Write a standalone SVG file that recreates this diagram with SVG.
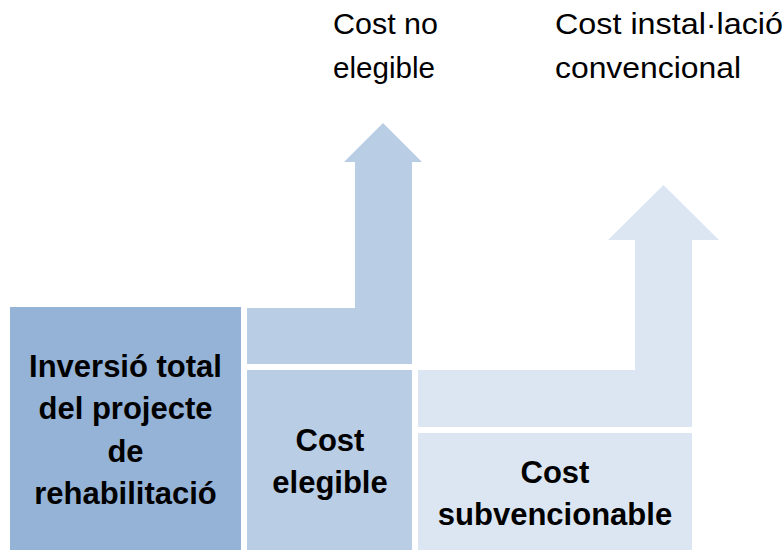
<svg xmlns="http://www.w3.org/2000/svg" width="783" height="550" viewBox="0 0 783 550">
  <style>
    .bold { font-family: "Liberation Sans", Arial, sans-serif; font-weight: bold; font-size: 31px; fill: #000; text-anchor: middle; }
    .reg { font-family: "Liberation Sans", Arial, sans-serif; font-size: 29px; fill: #000; }
    .c1 { fill: #95b3d7; }
    .c2 { fill: #b9cde5; }
    .c3 { fill: #dce6f2; }
  </style>
  <rect width="783" height="550" fill="#ffffff"/>

  <g id="inversio-total">
    <rect class="c1" x="10" y="307" width="231" height="243"/>
    <text class="bold" x="125.5" y="377">Inversió total</text>
    <text class="bold" x="125.5" y="419">del projecte</text>
    <text class="bold" x="125.5" y="461.5">de</text>
    <text class="bold" x="125.5" y="503.5">rehabilitació</text>
  </g>

  <g id="cost-elegible">
    <rect class="c2" x="247" y="370" width="165" height="180"/>
    <text class="bold" x="330" y="451">Cost</text>
    <text class="bold" x="330" y="493">elegible</text>
  </g>

  <g id="cost-subvencionable">
    <rect class="c3" x="418" y="433" width="274" height="117"/>
    <text class="bold" x="555" y="483">Cost</text>
    <text class="bold" x="555" y="525">subvencionable</text>
  </g>

  <g id="arrow-no-elegible">
    <path class="c2" d="M247,308 H355 V162 H344 L383,123 L422,162 H412 V364 H247 Z"/>
  </g>

  <g id="arrow-convencional">
    <path class="c3" d="M418,370 H635 V240 H608 L663.5,185 L719,240 H692 V427 H418 Z"/>
  </g>

  <g id="label-no-elegible">
    <text class="reg" x="333" y="34" textLength="105" lengthAdjust="spacingAndGlyphs">Cost no</text>
    <text class="reg" x="333" y="78" textLength="102" lengthAdjust="spacingAndGlyphs">elegible</text>
  </g>

  <g id="label-convencional">
    <text class="reg" x="555" y="34" textLength="228" lengthAdjust="spacingAndGlyphs">Cost instal·lació</text>
    <text class="reg" x="555" y="78" textLength="186" lengthAdjust="spacingAndGlyphs">convencional</text>
  </g>

  <g id="connectors"></g>
</svg>
